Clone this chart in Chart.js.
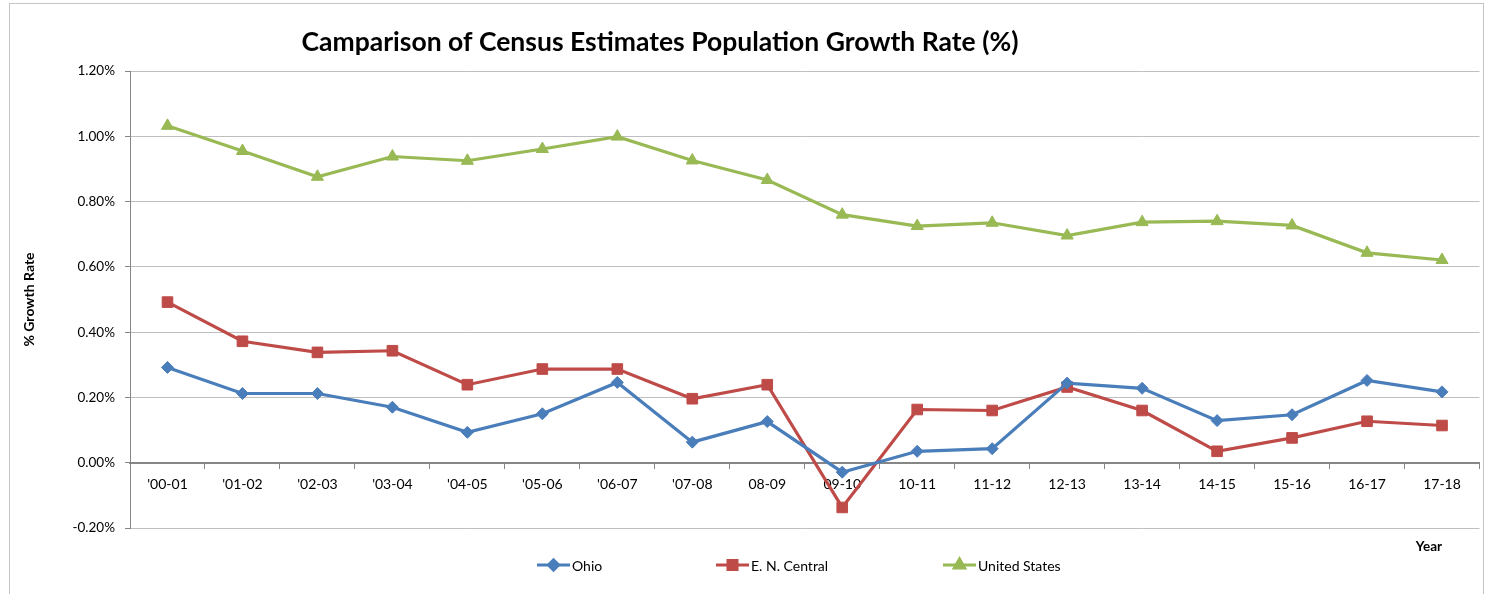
<!DOCTYPE html>
<html>
<head>
<meta charset="utf-8">
<script src="https://cdn.jsdelivr.net/npm/chart.js@4.4.1/dist/chart.umd.min.js"></script>
<style>
  html, body { margin: 0; padding: 0; background: #fff; }
  #wrap { width: 1488px; height: 594px; position: relative; }
</style>
</head>
<body>
<div id="wrap"><canvas id="chart"></canvas></div>
<script>
// Census estimate growth rates (%).
const periods = ["'00-01", "'01-02", "'02-03", "'03-04", "'04-05", "'05-06", "'06-07", "'07-08", "08-09",
  "09-10", "10-11", "11-12", "12-13", "13-14", "14-15", "15-16", "16-17", "17-18"];
const ohio = [0.292, 0.212, 0.212, 0.170, 0.093, 0.150, 0.246, 0.063, 0.126,
  -0.029, 0.035, 0.043, 0.244, 0.228, 0.129, 0.147, 0.252, 0.217];
const enCentral = [0.492, 0.372, 0.338, 0.343, 0.239, 0.287, 0.287, 0.196, 0.239,
  -0.137, 0.163, 0.160, 0.232, 0.160, 0.035, 0.076, 0.127, 0.114];
const unitedStates = [1.032, 0.955, 0.876, 0.938, 0.925, 0.961, 0.999, 0.926, 0.866,
  0.760, 0.725, 0.735, 0.696, 0.737, 0.740, 0.727, 0.643, 0.621];
const yMin = -0.2, yMax = 1.2, yStep = 0.2;

const FONT = "Lato, 'Open Sans', sans-serif";
const BLUE = "#4a7ebb", RED = "#be4b48", GREEN = "#98b954";
const AXIS = "#868686", GRID = "#bfbfbf";

const SERIES = [
  { label: "Ohio", data: ohio, color: BLUE, style: "rectRot", radius: 6 },
  { label: "E. N. Central", data: enCentral, color: RED, style: "rect", radius: 7.5 },
  { label: "United States", data: unitedStates, color: GREEN, style: "triangle", radius: 7 },
];

// Excel-style extras: outer frame, off-centre title, legend row, "Year" caption.
const decorations = {
  id: "decorations",
  beforeDraw(chart) {
    const ctx = chart.ctx;
    ctx.save();
    ctx.strokeStyle = "#c4c4c4";
    ctx.lineWidth = 1;
    ctx.strokeRect(9.5, 3.5, 1474, 700);
    ctx.restore();
  },
  afterDraw(chart) {
    const ctx = chart.ctx;
    ctx.save();
    ctx.fillStyle = "#000";
    ctx.textBaseline = "middle";

    ctx.font = `bold 26.5px ${FONT}`;
    ctx.textAlign = "center";
    ctx.fillText("Camparison of Census Estimates Population Growth Rate (%)", 660, 42);

    ctx.font = `bold 13.5px ${FONT}`;
    ctx.fillText("Year", 1429, 547);

    // legend: line sample with marker, then label
    const legendX = [537, 716, 943];
    ctx.font = `14px ${FONT}`;
    ctx.textAlign = "left";
    SERIES.forEach((s, i) => {
      const x = legendX[i], y = 565;
      ctx.strokeStyle = s.color;
      ctx.lineWidth = 3;
      ctx.beginPath();
      ctx.moveTo(x, y);
      ctx.lineTo(x + 33, y);
      ctx.stroke();
      ctx.fillStyle = s.color;
      Chart.helpers.drawPoint(ctx, { pointStyle: s.style, radius: s.radius * 0.85, rotation: 0, borderWidth: 1 }, x + 16.5, y);
      ctx.fillStyle = "#000";
      ctx.fillText(s.label, x + 35, y + 1);
    });
    ctx.restore();
  },
};

new Chart(document.getElementById("chart"), {
  type: "line",
  data: {
    labels: periods,
    datasets: SERIES.map((s) => ({
      label: s.label,
      data: s.data,
      borderColor: s.color,
      backgroundColor: s.color,
      borderWidth: 3.2,
      pointStyle: s.style,
      pointRadius: s.radius,
      pointBorderWidth: 1,
      pointBorderColor: s.color,
      tension: 0,
    })),
  },
  options: {
    responsive: true,
    maintainAspectRatio: false,
    animation: false,
    layout: { padding: { left: 0, top: 71, right: 6, bottom: 66 } },
    plugins: {
      legend: { display: false },
      title: { display: false },
      tooltip: { enabled: false },
    },
    scales: {
      x: {
        type: "category",
        position: { y: 0 },
        offset: true,
        afterFit: (s) => { s.height = 0; },
        grid: { offset: true, drawOnChartArea: false, color: AXIS, tickLength: 5 },
        border: { color: AXIS, width: 2 },
        ticks: {
          color: "#000",
          autoSkip: false,
          maxRotation: 0,
          padding: 8,
          font: { family: FONT, size: 14 },
        },
      },
      y: {
        min: yMin,
        max: yMax,
        afterFit: (s) => { s.width = 130; },
        grid: { color: GRID, tickColor: AXIS, tickLength: 5 },
        border: { color: AXIS, width: 1 },
        ticks: {
          stepSize: yStep,
          color: "#000",
          padding: 10,
          font: { family: FONT, size: 13.5 },
          callback: (v) => (Math.abs(v) < 1e-9 ? 0 : v).toFixed(2) + "%",
        },
        title: {
          display: true,
          text: "% Growth Rate",
          color: "#000",
          font: { family: FONT, size: 14, weight: "bold" },
          padding: { top: 21, bottom: 0 },
        },
      },
    },
  },
  plugins: [decorations],
});
</script>
</body>
</html>
